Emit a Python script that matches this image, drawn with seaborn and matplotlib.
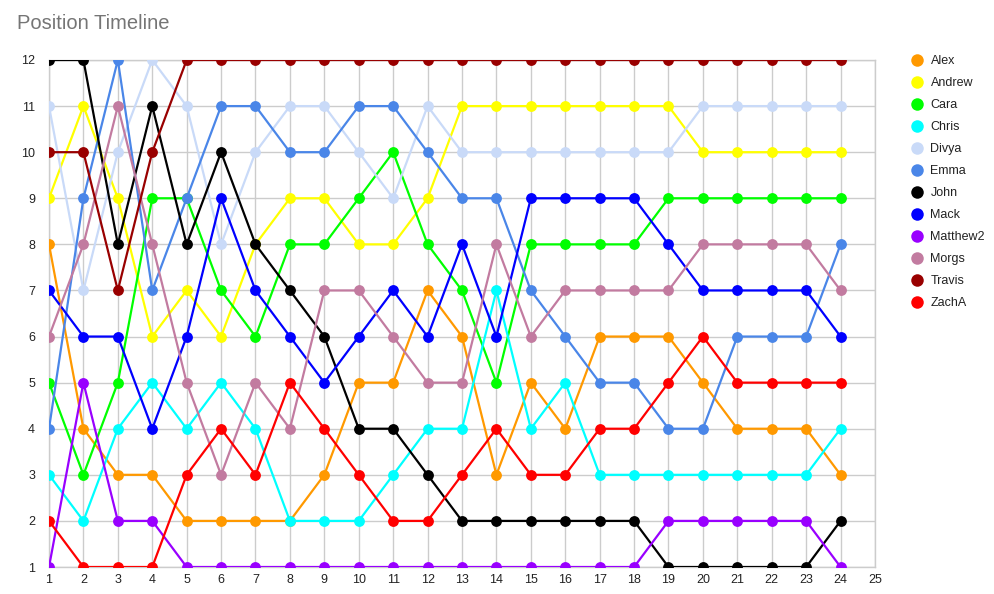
import matplotlib
matplotlib.use("Agg")
import matplotlib.pyplot as plt
import seaborn as sns
import pandas as pd
from matplotlib.lines import Line2D

rounds = list(range(1, 25))
names = ["Alex", "Andrew", "Cara", "Chris", "Divya", "Emma", "John", "Mack",
         "Matthew2", "Morgs", "Travis", "ZachA"]
colors = ["#ff9900", "#ffff00", "#00ff00", "#00ffff", "#c9daf8", "#4a86e8",
          "#000000", "#0000ff", "#9900ff", "#c27ba0", "#990000", "#ff0000"]

alex = [8, 4, 3, 3, 2, 2, 2, 2, 3, 5, 5, 7, 6, 3, 5, 4, 6, 6, 6, 5, 4, 4, 4, 3]
andrew = [9, 11, 9, 6, 7, 6, 8, 9, 9, 8, 8, 9, 11, 11, 11, 11, 11, 11, 11, 10, 10, 10, 10, 10]
cara = [5, 3, 5, 9, 9, 7, 6, 8, 8, 9, 10, 8, 7, 5, 8, 8, 8, 8, 9, 9, 9, 9, 9, 9]
chris = [3, 2, 4, 5, 4, 5, 4, 2, 2, 2, 3, 4, 4, 7, 4, 5, 3, 3, 3, 3, 3, 3, 3, 4]
divya = [11, 7, 10, 12, 11, 8, 10, 11, 11, 10, 9, 11, 10, 10, 10, 10, 10, 10, 10, 11, 11, 11, 11, 11]
emma = [4, 9, 12, 7, 9, 11, 11, 10, 10, 11, 11, 10, 9, 9, 7, 6, 5, 5, 4, 4, 6, 6, 6, 8]
john = [12, 12, 8, 11, 8, 10, 8, 7, 6, 4, 4, 3, 2, 2, 2, 2, 2, 2, 1, 1, 1, 1, 1, 2]
mack = [7, 6, 6, 4, 6, 9, 7, 6, 5, 6, 7, 6, 8, 6, 9, 9, 9, 9, 8, 7, 7, 7, 7, 6]
matthew2 = [1, 5, 2, 2, 1, 1, 1, 1, 1, 1, 1, 1, 1, 1, 1, 1, 1, 1, 2, 2, 2, 2, 2, 1]
morgs = [6, 8, 11, 8, 5, 3, 5, 4, 7, 7, 6, 5, 5, 8, 6, 7, 7, 7, 7, 8, 8, 8, 8, 7]
travis = [10, 10, 7, 10, 12, 12, 12, 12, 12, 12, 12, 12, 12, 12, 12, 12, 12, 12, 12, 12, 12, 12, 12, 12]
zacha = [2, 1, 1, 1, 3, 4, 3, 5, 4, 3, 2, 2, 3, 4, 3, 3, 4, 4, 5, 6, 5, 5, 5, 5]

series = [alex, andrew, cara, chris, divya, emma, john, mack, matthew2, morgs, travis, zacha]

xticks = list(range(1, 26))
yticks = list(range(1, 13))

rows = []
for n, vals in zip(names, series):
    for r, v in zip(rounds, vals):
        rows.append({"Round": r, "Position": v, "Name": n})
df = pd.DataFrame(rows)

sns.set_style("white")
plt.rcParams["font.family"] = ["Liberation Sans", "DejaVu Sans"]

fig = plt.figure(figsize=(9.95, 5.94), dpi=100)
ax = fig.add_axes([49 / 995, 1 - 567 / 594, (875 - 49) / 995, (567 - 60) / 594])

palette = dict(zip(names, colors))
sns.lineplot(data=df, x="Round", y="Position", hue="Name", hue_order=names,
             palette=palette, marker="o", markersize=7.8, markeredgewidth=0,
             linewidth=1.6, ax=ax, legend=False, zorder=3)

ax.set_xlim(1, 25)
ax.set_ylim(1, 12)
ax.set_xticks(xticks)
ax.set_yticks(yticks)
ax.tick_params(axis="both", length=0, labelsize=9, colors="#222222")
ax.tick_params(axis="x", pad=5)
ax.tick_params(axis="y", pad=10)
ax.grid(True, color="#cccccc", linewidth=1)
ax.set_axisbelow(True)
for s in ax.spines.values():
    s.set_color("#cccccc")
    s.set_linewidth(1)
ax.set_xlabel("")
ax.set_ylabel("")

fig.text(17 / 995, 1 - 29 / 594, "Position Timeline", fontsize=14.5, color="#757575",
         ha="left", va="baseline")

handles = [Line2D([0], [0], marker="o", linestyle="none", markersize=9,
                  markerfacecolor=c, markeredgewidth=0) for c in colors]
leg = fig.legend(handles, names, loc="upper left",
                 bbox_to_anchor=(903 / 995, 1 - 50 / 594), frameon=False,
                 fontsize=9, labelspacing=0.80, handletextpad=0.3,
                 handlelength=1.5, borderaxespad=0)
for t in leg.get_texts():
    t.set_color("#222222")

fig.savefig("out.png", dpi=100)
